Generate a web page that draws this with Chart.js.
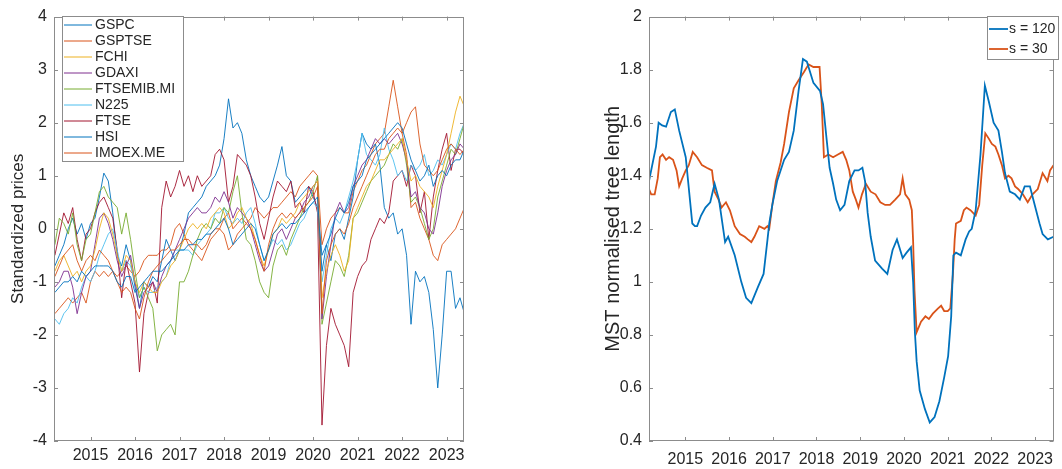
<!DOCTYPE html>
<html>
<head>
<meta charset="utf-8">
<script src="https://cdn.jsdelivr.net/npm/chart.js@4.4.0/dist/chart.umd.min.js"></script>
<style>
html,body{margin:0;padding:0;background:#fff;}
#wrap{position:relative;width:1062px;height:469px;overflow:hidden;}
canvas{position:absolute;top:0;}
#chartLeft{left:0;}
#chartRight{left:531px;}
</style>
</head>
<body>
<div id="wrap">
<canvas id="chartLeft" width="531" height="469"></canvas>
<canvas id="chartRight" width="531" height="469"></canvas>
</div>
<script>

// ---- data ----

const yearTicks = [2015,2016,2017,2018,2019,2020,2021,2022,2023];

const indexNames = ["GSPC","GSPTSE","FCHI","GDAXI","FTSEMIB.MI","N225","FTSE","HSI","IMOEX.ME"];
const indexColors = ["#0072BD","#D95319","#EDB120","#7E2F8E","#77AC30","#4DBEEE","#A2142F","#0072BD","#D95319"];

// sample dates of the left panel, every 0.1 year from 2014.2 to 2023.4
const priceDates = [];
for(let i=0;i<93;i++) priceDates.push(+(2014.2+i*0.1).toFixed(1));

const gspc = [
-1.2,-1.1,-1.0,-1.0,-0.9,-1.0,-0.8,-0.9,-0.8,-0.7,
-0.7,-0.7,-0.7,-0.8,-1.0,-1.1,-0.9,-0.9,-1.2,-1.1,
-1.0,-0.9,-0.8,-0.8,-0.8,-0.7,-0.6,-0.5,-0.4,-0.4,
-0.3,-0.3,-0.2,-0.2,-0.1,-0.1,0.0,0.1,0.2,0.0,
-0.3,-0.2,-0.1,0.0,0.1,0.0,-0.3,-0.6,-0.4,-0.1,
0.0,0.1,0.0,0.1,0.1,0.2,0.3,0.4,0.5,0.6,
-0.8,-0.3,-0.1,0.2,0.4,0.3,0.5,0.8,0.9,1.0,
1.3,1.4,1.5,1.6,1.7,1.8,1.9,2.0,1.9,1.6,
1.3,1.1,0.9,1.0,1.2,0.8,1.0,1.1,1.0,1.2,
1.3,1.3,1.5];

const gsptse = [
-0.9,-0.7,-0.5,-0.4,-0.3,-0.6,-0.8,-0.6,-0.5,-0.6,
-0.4,-0.5,-0.6,-0.8,-1.0,-1.2,-1.1,-1.2,-1.5,-1.7,
-1.3,-1.0,-0.8,-0.7,-0.6,-0.5,-0.4,-0.4,-0.3,-0.2,
-0.2,-0.3,-0.3,-0.4,-0.3,-0.1,0.0,0.0,-0.1,-0.4,
-0.3,-0.1,0.0,0.1,0.0,-0.2,-0.5,-0.8,-0.3,0.0,
0.2,0.3,0.2,0.3,0.2,0.3,0.4,0.5,0.6,0.8,
-1.6,-0.6,-0.3,-0.1,0.0,-0.1,0.1,0.4,0.6,0.8,
1.0,1.2,1.4,1.5,1.5,1.7,1.8,1.9,1.8,2.0,
2.2,2.3,1.6,1.2,1.1,1.0,1.1,1.3,1.5,1.6,
1.5,1.4,1.5];

const fchi = [
-0.8,-0.6,-0.5,-0.7,-0.9,-0.8,-1.0,-0.8,-0.7,-0.4,
0.0,0.3,0.2,-0.1,-0.5,-0.8,-0.5,-0.6,-1.0,-1.2,
-1.0,-1.1,-1.2,-1.2,-1.0,-0.9,-0.7,-0.6,-0.4,-0.2,
0.0,0.1,0.0,0.1,0.0,0.2,0.3,0.4,0.3,0.0,
0.1,0.3,0.4,0.2,0.1,-0.2,-0.5,-0.7,-0.4,-0.1,
0.0,0.2,0.1,0.2,0.3,0.5,0.6,0.7,0.8,0.9,
-1.3,-0.8,-0.5,-0.3,-0.5,-0.8,-0.6,0.2,0.4,0.6,
0.8,0.9,1.1,1.3,1.3,1.4,1.5,1.6,1.7,1.3,
0.9,1.0,0.8,0.7,0.6,0.4,0.8,1.1,1.4,1.8,
2.2,2.5,2.3];

const gdaxi = [
-1.1,-1.0,-0.8,-0.8,-1.1,-1.6,-1.2,-0.9,-0.8,-0.3,
0.2,0.3,0.1,-0.2,-0.6,-0.9,-0.7,-0.5,-1.0,-1.5,
-1.2,-1.1,-1.0,-1.2,-0.9,-0.7,-0.6,-0.4,-0.2,0.0,
0.2,0.3,0.4,0.3,0.3,0.4,0.6,0.5,0.7,0.5,
0.2,0.4,0.3,0.2,0.0,-0.3,-0.6,-0.8,-0.7,-0.4,
-0.1,0.0,-0.2,0.0,0.2,0.3,0.5,0.6,0.8,0.9,
-1.7,-0.9,-0.3,0.3,0.5,0.3,0.4,0.8,1.0,1.2,
1.3,1.5,1.7,1.6,1.7,1.6,1.7,1.8,1.6,1.3,
0.6,0.7,0.4,0.3,0.0,-0.1,0.3,0.8,1.1,1.3,
1.4,1.6,1.5];

const ftsemib = [
-0.3,0.2,0.1,-0.1,0.3,-0.3,-0.6,-0.2,-0.1,0.3,
0.7,0.8,0.6,0.5,0.4,-0.1,0.3,-0.2,-0.8,-1.3,
-1.1,-1.3,-1.5,-2.3,-2.0,-1.9,-1.8,-2.0,-1.0,-1.0,
-0.8,-0.5,-0.2,0.0,0.1,0.0,0.2,0.1,0.4,0.3,
0.7,1.0,0.3,-0.2,-0.3,-0.6,-1.0,-1.2,-1.3,-0.7,
-0.4,-0.3,-0.5,-0.2,0.0,0.2,0.4,0.5,0.7,1.0,
-1.8,-1.4,-1.0,-0.6,-0.7,-0.9,-0.5,0.2,0.3,0.5,
0.7,0.9,1.0,1.1,1.2,1.4,1.6,1.5,1.7,1.2,
0.5,0.6,0.4,0.1,-0.2,0.0,0.6,0.9,1.2,1.5,
1.4,1.7,2.0];

const n225 = [
-1.7,-1.8,-1.6,-1.5,-1.3,-1.4,-1.1,-0.9,-1.0,-0.8,
-0.5,-0.3,-0.1,0.0,-0.4,-0.8,-0.6,-0.7,-1.0,-1.3,
-1.1,-1.2,-1.2,-1.1,-1.0,-0.9,-0.6,-0.4,-0.4,-0.4,
-0.4,-0.5,-0.3,-0.2,-0.1,0.0,0.3,0.3,0.4,0.2,
0.1,0.2,0.1,0.3,0.4,0.1,-0.3,-0.6,-0.4,-0.2,
-0.3,-0.2,-0.4,-0.3,-0.1,0.1,0.2,0.4,0.5,0.4,
-1.0,-0.5,0.0,0.2,0.1,0.3,0.6,0.9,1.3,1.8,
1.4,1.3,1.2,1.4,1.9,1.5,1.3,1.0,1.1,0.9,
1.2,1.1,1.2,1.4,1.0,1.1,1.3,1.2,1.4,1.6,
1.5,1.8,2.0];

const ftse = [
-0.5,-0.1,0.3,0.1,0.4,-0.2,-0.6,-0.1,0.0,0.3,
0.5,0.6,0.4,0.2,-0.4,-1.3,-0.6,-1.0,-1.4,-2.7,
-1.6,-1.2,-1.0,-1.4,0.4,0.9,0.6,0.8,1.1,0.8,
1.0,0.7,1.0,0.8,0.9,1.0,1.4,1.5,1.3,0.5,
0.8,1.4,1.3,1.2,1.0,0.6,0.1,-0.2,0.2,0.6,
0.9,0.8,0.7,0.9,0.4,0.5,0.3,0.8,0.7,0.3,
-3.7,-2.2,-1.5,-1.8,-2.0,-2.2,-2.6,-1.2,-0.9,-0.7,
-0.6,-0.2,0.0,0.2,0.1,0.3,0.9,1.0,1.1,0.8,
1.2,1.0,0.3,0.7,-0.2,0.6,1.1,1.5,1.8,1.1,
1.5,1.5,1.4];

const hsi = [
-0.7,-0.5,-0.3,0.0,0.2,-0.1,0.1,-0.2,0.1,0.2,
0.6,1.05,0.9,0.3,-0.5,-0.7,-0.3,-0.6,-1.1,-1.5,
-1.0,-1.1,-0.9,-1.0,-0.6,-0.2,-0.4,-0.6,-0.4,-0.1,
0.3,0.4,0.5,0.6,0.8,0.9,1.0,1.2,1.7,2.45,
1.9,2.0,1.8,1.3,1.0,0.8,0.6,0.5,0.6,0.9,
1.2,1.55,1.0,0.9,0.5,0.6,0.7,0.8,0.6,0.4,
-0.5,-0.3,-0.6,-0.1,0.0,-0.2,0.2,0.6,1.3,1.8,
1.6,1.5,1.6,1.2,0.4,0.2,0.3,-0.1,0.0,-0.5,
-1.8,-0.8,-1.0,-0.9,-1.2,-1.9,-3.0,-2.0,-0.8,-0.8,
-1.5,-1.3,-1.6];

const imoex = [
-1.6,-1.5,-1.4,-1.3,-1.4,-1.3,-1.2,-1.4,-1.0,-0.8,
-0.9,-0.8,-0.9,-0.8,-0.9,-0.8,-0.7,-0.8,-0.9,-0.8,
-0.6,-0.5,-0.5,-0.5,-0.4,-0.4,-0.3,0.0,0.1,-0.1,
-0.3,-0.4,-0.5,-0.6,-0.4,-0.2,-0.1,0.0,0.2,0.3,
0.0,0.1,0.2,0.1,0.2,0.4,0.3,0.2,0.3,0.4,
0.4,0.5,0.6,0.7,0.6,0.8,0.9,1.0,1.1,1.0,
-0.3,0.0,0.2,0.3,0.4,0.3,0.3,0.7,0.9,1.1,
1.2,1.4,1.6,1.7,1.8,2.3,2.8,2.3,1.8,1.4,
0.4,0.5,0.2,0.0,-0.2,-0.5,-0.6,-0.3,-0.2,-0.1,
0.0,0.2,0.4];

const indexSeries = [gspc,gsptse,fchi,gdaxi,ftsemib,n225,ftse,hsi,imoex];

// right panel: MST normalised tree length
const dates120 = [2014.17,2014.33,2014.39,2014.47,2014.56,2014.67,2014.76,2014.86,2015.01,2015.16,
2015.22,2015.27,2015.36,2015.46,2015.57,2015.67,2015.77,2015.91,2015.98,2016.13,
2016.28,2016.39,2016.51,2016.66,2016.79,2016.88,2016.92,2016.99,2017.10,2017.26,
2017.37,2017.48,2017.59,2017.69,2017.78,2017.93,2018.08,2018.15,2018.23,2018.30,
2018.38,2018.45,2018.54,2018.64,2018.75,2018.87,2018.96,2019.05,2019.11,2019.17,
2019.24,2019.34,2019.50,2019.62,2019.74,2019.84,2019.97,2020.06,2020.16,2020.21,
2020.25,2020.29,2020.36,2020.48,2020.59,2020.70,2020.81,2020.92,2021.01,2021.08,
2021.13,2021.19,2021.30,2021.41,2021.49,2021.55,2021.64,2021.75,2021.85,2021.94,
2022.05,2022.16,2022.24,2022.31,2022.42,2022.54,2022.65,2022.76,2022.88,2022.99,
2023.10,2023.17,2023.29,2023.42];
const s120 = [1.38,1.51,1.60,1.59,1.585,1.64,1.65,1.57,1.47,1.22,
1.21,1.21,1.25,1.28,1.30,1.37,1.31,1.15,1.17,1.10,
1.00,0.94,0.92,0.98,1.03,1.16,1.22,1.29,1.38,1.46,
1.49,1.57,1.72,1.84,1.83,1.75,1.72,1.67,1.54,1.43,
1.37,1.31,1.27,1.29,1.38,1.42,1.42,1.43,1.38,1.26,
1.17,1.08,1.05,1.03,1.12,1.16,1.09,1.11,1.13,1.00,
0.81,0.70,0.59,0.52,0.47,0.49,0.55,0.64,0.72,0.87,
1.10,1.11,1.10,1.16,1.19,1.20,1.27,1.48,1.74,1.68,
1.60,1.57,1.49,1.41,1.34,1.33,1.31,1.36,1.36,1.29,
1.22,1.18,1.16,1.17];

const dates30 = [2014.17,2014.22,2014.30,2014.37,2014.42,2014.48,2014.56,2014.63,2014.72,2014.80,
2014.86,2014.93,2015.01,2015.08,2015.17,2015.27,2015.38,2015.49,2015.61,2015.67,
2015.76,2015.83,2015.93,2016.02,2016.13,2016.25,2016.36,2016.43,2016.51,2016.58,
2016.69,2016.81,2016.88,2016.92,2016.99,2017.07,2017.18,2017.26,2017.37,2017.48,
2017.59,2017.71,2017.82,2017.93,2018.07,2018.12,2018.17,2018.27,2018.38,2018.49,
2018.60,2018.68,2018.75,2018.83,2018.90,2018.96,2019.04,2019.13,2019.24,2019.35,
2019.46,2019.57,2019.68,2019.80,2019.91,2019.97,2020.03,2020.12,2020.18,2020.21,
2020.24,2020.29,2020.39,2020.49,2020.57,2020.66,2020.78,2020.85,2020.92,2021.00,
2021.06,2021.12,2021.16,2021.19,2021.30,2021.37,2021.43,2021.52,2021.64,2021.72,
2021.79,2021.86,2021.94,2022.01,2022.09,2022.16,2022.24,2022.31,2022.39,2022.46,
2022.54,2022.61,2022.72,2022.83,2022.94,2023.06,2023.17,2023.28,2023.34,2023.42];
const s30 = [1.35,1.33,1.33,1.39,1.47,1.48,1.46,1.47,1.46,1.42,
1.36,1.39,1.42,1.44,1.49,1.47,1.44,1.43,1.42,1.34,
1.31,1.28,1.30,1.27,1.21,1.18,1.17,1.16,1.15,1.17,
1.21,1.20,1.21,1.20,1.29,1.38,1.45,1.52,1.64,1.73,
1.76,1.79,1.82,1.81,1.81,1.67,1.47,1.48,1.47,1.48,
1.49,1.46,1.42,1.34,1.31,1.28,1.33,1.37,1.34,1.33,
1.30,1.29,1.29,1.31,1.33,1.39,1.33,1.31,1.27,1.15,
0.97,0.81,0.85,0.87,0.86,0.88,0.90,0.91,0.89,0.89,
0.90,1.03,1.16,1.22,1.23,1.27,1.28,1.27,1.25,1.29,
1.44,1.56,1.54,1.52,1.51,1.48,1.44,1.39,1.40,1.39,
1.36,1.35,1.33,1.30,1.33,1.35,1.41,1.38,1.42,1.44];

// ---- drawing ----

Chart.defaults.font.family = "'Liberation Sans', Arial, Helvetica, sans-serif";
Chart.defaults.color = "#262626";

const AXIS = "#8c8c8c";

// MATLAB-like box with inward ticks, plus a boxed legend inside the axes
const framePlugin = {
id:"frame",
afterDraw(chart, args, opts){
const {ctx, chartArea:a, scales:{x, y}} = chart;
ctx.save();
ctx.strokeStyle = AXIS;
ctx.lineWidth = 1;
ctx.strokeRect(Math.round(a.left)+0.5, Math.round(a.top)+0.5, Math.round(a.right-a.left)-1, Math.round(a.bottom-a.top)-1);
const tl = 4;
ctx.beginPath();
x.ticks.forEach(t=>{
const px = Math.round(x.getPixelForValue(t.value))+0.5;
ctx.moveTo(px, a.bottom); ctx.lineTo(px, a.bottom-tl);
ctx.moveTo(px, a.top); ctx.lineTo(px, a.top+tl);
});
y.ticks.forEach(t=>{
const py = Math.round(y.getPixelForValue(t.value))+0.5;
ctx.moveTo(a.left, py); ctx.lineTo(a.left+tl, py);
ctx.moveTo(a.right, py); ctx.lineTo(a.right-tl, py);
});
ctx.stroke();

const lg = opts.legend;
if(lg){
ctx.fillStyle = "#fff";
ctx.fillRect(lg.x, lg.y, lg.w, lg.h);
ctx.strokeStyle = AXIS;
ctx.strokeRect(lg.x+0.5, lg.y+0.5, lg.w, lg.h);
ctx.font = lg.size + "px 'Liberation Sans', Arial, sans-serif";
ctx.textBaseline = "middle";
chart.data.datasets.forEach((ds,i)=>{
const cy = lg.y + lg.first + i*lg.row;
ctx.strokeStyle = ds.borderColor;
ctx.lineWidth = lg.lw;
ctx.beginPath();
ctx.moveTo(lg.x+lg.l0, cy); ctx.lineTo(lg.x+lg.l1, cy);
ctx.stroke();
ctx.fillStyle = "#262626";
ctx.fillText(ds.label, lg.x+lg.tx, cy+0.5);
});
}
ctx.restore();
}
};

function yearAxis(min, max, pad){
return {
type:"linear",
min:min, max:max,
afterBuildTicks: s => { s.ticks = yearTicks.map(v=>({value:v})); },
afterFit: s => { s.height = 28; },
grid:{display:false, drawTicks:false},
border:{display:false},
ticks:{padding:pad, font:{size:16}, maxRotation:0, callback: v => String(v)}
};
}

new Chart(document.getElementById("chartLeft"),{
type:"line",
data:{
datasets: indexNames.map((name,k)=>({
label:name,
data: indexSeries[k].map((v,i)=>({x:priceDates[i], y:v})),
borderColor:indexColors[k],
borderWidth:0.9,
pointRadius:0,
tension:0
}))
},
options:{
responsive:false,
animation:false,
layout:{padding:{top:10,right:67,left:0,bottom:0}},
plugins:{
legend:{display:false},
tooltip:{enabled:false},
frame:{legend:{x:62,y:16,w:121,h:145,first:9,row:16,l0:2,l1:30,tx:33,size:14,lw:1}}
},
scales:{
x: yearAxis(2014.18, 2023.39, 5),
y:{
min:-4, max:4,
afterFit: s => { s.width = 54; },
grid:{display:false, drawTicks:false},
border:{display:false},
ticks:{stepSize:1, padding:7, font:{size:16}},
title:{display:true, text:"Standardized prices", font:{size:17}, padding:{top:8,bottom:0}}
}
}
},
plugins:[framePlugin]
});

new Chart(document.getElementById("chartRight"),{
type:"line",
data:{
datasets:[
{label:"s = 120", data:s120.map((v,i)=>({x:dates120[i], y:v})), borderColor:"#0072BD", borderWidth:1.8, pointRadius:0, tension:0},
{label:"s = 30", data:s30.map((v,i)=>({x:dates30[i], y:v})), borderColor:"#D95319", borderWidth:1.8, pointRadius:0, tension:0}
]
},
options:{
responsive:false,
animation:false,
layout:{padding:{top:10,right:1,left:0,bottom:0}},
plugins:{
legend:{display:false},
tooltip:{enabled:false},
frame:{legend:{x:456,y:16,w:71,h:43,first:13,row:20,l0:2,l1:21,tx:22,size:14,lw:1.8}}
},
scales:{
x: yearAxis(2014.17, 2023.42, 9),
y:{
min:0.4, max:2,
afterFit: s => { s.width = 118; },
grid:{display:false, drawTicks:false},
border:{display:false},
ticks:{stepSize:0.2, padding:7, font:{size:16}, callback: v => String(+v.toFixed(1))},
title:{display:true, text:"MST normalised tree length", font:{size:20}, padding:{top:70,bottom:0}}
}
}
},
plugins:[framePlugin]
});

</script>
</body>
</html>
